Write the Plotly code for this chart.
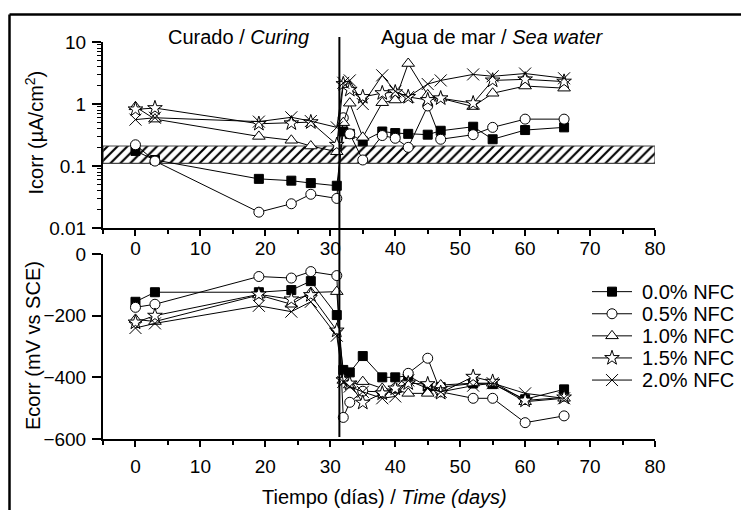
import plotly.graph_objects as go

# ---------------- data ----------------
days = [0, 3, 19, 24, 27, 31, 32, 33, 35, 38, 40, 42, 45, 47, 52, 55, 60, 66]
series_names = ["0.0% NFC", "0.5% NFC", "1.0% NFC", "1.5% NFC", "2.0% NFC"]

icorr_00 = [0.175, 0.125, 0.062, 0.058, 0.053, 0.048, 0.36, 0.33, 0.25, 0.36, 0.34, 0.33, 0.32, 0.37, 0.43, 0.27, 0.38, 0.42]
icorr_05 = [0.22, 0.12, 0.018, 0.0246, 0.035, 0.030, 0.6, 0.33, 0.125, 0.31, 0.28, 0.20, 0.93, 0.27, 0.32, 0.42, 0.57, 0.57]
icorr_10 = [0.9, 0.57, 0.30, 0.26, 0.21, 0.17, 0.5, 1.03, 0.29, 1.05, 1.16, 4.5, 1.4, 1.24, 0.91, 1.49, 1.95, 1.8]
icorr_15 = [0.82, 0.86, 0.48, 0.49, 0.51, 0.22, 2.1, 1.7, 1.3, 1.5, 1.55, 1.3, 1.16, 1.24, 1.03, 2.4, 2.5, 2.3]
icorr_20 = [0.56, 0.6, 0.52, 0.61, 0.53, 0.42, 2.2, 2.4, 1.0, 2.9, 1.6, 1.3, 2.1, 2.4, 3.0, 2.8, 3.1, 2.6]

ecorr_00 = [-155, -124, -124, -117, -88, -198, -376, -384, -331, -400, -400, -395, -430, -432, -420, -422, -471, -439]
ecorr_05 = [-173, -163, -73, -78, -57, -70, -530, -481, -445, -447, -436, -387, -338, -447, -468, -468, -547, -525]
ecorr_10 = [-212, -219, -133, -163, -125, -122, -410, -425, -414, -436, -440, -452, -452, -425, -419, -419, -479, -468]
ecorr_15 = [-222, -200, -131, -147, -133, -248, -409, -420, -482, -452, -436, -419, -422, -450, -398, -414, -475, -465]
ecorr_20 = [-240, -225, -168, -187, -155, -265, -415, -430, -447, -468, -462, -410, -436, -447, -427, -419, -452, -468]

# passivity band (µA/cm²) and phase change day
band_low, band_high = 0.11, 0.21
phase_change_day = 31.4
x_range = [-5, 80]

icorr = [icorr_00, icorr_05, icorr_10, icorr_15, icorr_20]
ecorr = [ecorr_00, ecorr_05, ecorr_10, ecorr_15, ecorr_20]

# ---------------- styles ----------------
FONT = "Arial, 'Liberation Sans', sans-serif"
styles = [
    dict(symbol="square", size=9, color="black", line=dict(color="black", width=1)),
    dict(symbol="circle", size=10, color="white", line=dict(color="black", width=1)),
    dict(symbol="triangle-up", size=11, color="white", line=dict(color="black", width=1)),
    dict(symbol="star", size=11, color="white", line=dict(color="black", width=1)),
    dict(symbol="x-thin", size=12, color="black", line=dict(color="black", width=1)),
]

W, H = 741, 510
L, R, T, B = 103, 86, 42, 71
pw, ph = W - L - R, H - T - B


def px2x(px):
    return (px - L) / pw


def py2y(py):
    return (H - B - py) / ph


fig = go.Figure()

# hatched band (drawn first, behind data)
fig.add_trace(go.Scatter(
    x=[x_range[0], x_range[1], x_range[1], x_range[0], x_range[0]],
    y=[band_low, band_low, band_high, band_high, band_low],
    mode="lines", fill="toself", fillcolor="white",
    fillpattern=dict(shape="/", size=7, solidity=0.3, fgcolor="black", bgcolor="white", fillmode="replace"),
    line=dict(color="#444", width=1.2), hoverinfo="skip", showlegend=False,
    xaxis="x", yaxis="y",
))

for i in range(5):
    fig.add_trace(go.Scatter(x=days, y=icorr[i], mode="lines+markers", name=series_names[i],
                             line=dict(color="black", width=1), marker=styles[i],
                             showlegend=False, xaxis="x", yaxis="y", cliponaxis=False))
    fig.add_trace(go.Scatter(x=days, y=ecorr[i], mode="lines+markers", name=series_names[i],
                             line=dict(color="black", width=1), marker=styles[i],
                             showlegend=False, xaxis="x2", yaxis="y2", cliponaxis=False))

# manual legend on a hidden axis pair
for i in range(5):
    fig.add_trace(go.Scatter(x=[0, 1], y=[i, i], mode="lines", line=dict(color="black", width=1),
                             showlegend=False, hoverinfo="skip", xaxis="x3", yaxis="y3"))
    fig.add_trace(go.Scatter(x=[0.5], y=[i], mode="markers", marker=styles[i],
                             showlegend=False, hoverinfo="skip", xaxis="x3", yaxis="y3", cliponaxis=False))

axis_common = dict(showgrid=False, zeroline=False, showline=True, linecolor="black", linewidth=2,
                   ticks="outside", tickcolor="black", tickwidth=1.5,
                   tickfont=dict(family=FONT, size=19, color="black"), mirror=False)

top_dom = [py2y(228), 1.0]
bot_dom = [0.0, py2y(254)]

fig.update_layout(
    width=W, height=H, margin=dict(l=L, r=R, t=T, b=B),
    paper_bgcolor="white", plot_bgcolor="rgba(0,0,0,0)",
    showlegend=False,
    xaxis=dict(**axis_common, domain=[0, 1], range=x_range, tickvals=[0, 10, 20, 30, 40, 50, 60, 70, 80],
               ticklen=6, ticklabelstandoff=-4, anchor="y",
               minor=dict(ticks="outside", tickvals=[-5, 5, 15, 25, 35, 45, 55, 65, 75], ticklen=4, tickcolor="black", tickwidth=1.5)),
    yaxis=dict(**axis_common, domain=top_dom, type="log", range=[-2, 1],
               tickvals=[0.01, 0.1, 1, 10], ticktext=["0.01", "0.1", "1", "10"],
               ticklen=9, ticklabelstandoff=2, anchor="x",
               minor=dict(ticks="outside", ticklen=4, dtick="D1", tickcolor="black", tickwidth=1)),
    xaxis2=dict(**axis_common, domain=[0, 1], range=x_range, tickvals=[0, 10, 20, 30, 40, 50, 60, 70, 80],
                ticklen=6, ticklabelstandoff=3, anchor="y2",
                minor=dict(ticks="outside", tickvals=[-5, 5, 15, 25, 35, 45, 55, 65, 75], ticklen=4, tickcolor="black", tickwidth=1.5)),
    yaxis2=dict(**axis_common, domain=bot_dom, range=[-600, 0], tickvals=[-600, -400, -200, 0],
                ticklen=9, ticklabelstandoff=2, anchor="x2"),
    xaxis3=dict(domain=[px2x(592), px2x(632)], range=[0, 1], visible=False, anchor="y3", fixedrange=True),
    yaxis3=dict(domain=[py2y(391.1), py2y(280.6)], range=[4.5, -0.5], visible=False, anchor="x3", fixedrange=True),
)

annotations = []
for i in range(5):
    annotations.append(dict(text=series_names[i], x=px2x(640), y=i, xref="paper", yref="y3",
                            xanchor="left", yanchor="middle", showarrow=False,
                            font=dict(family=FONT, size=20, color="black")))
annotations += [
    dict(text="Curado / <i>Curing</i>", x=px2x(238), y=py2y(37.5), xref="paper", yref="paper",
         xanchor="center", yanchor="middle", showarrow=False, font=dict(family=FONT, size=20, color="black")),
    dict(text="Agua de mar / <i>Sea water</i>", x=px2x(492.5), y=py2y(37.5), xref="paper", yref="paper",
         xanchor="center", yanchor="middle", showarrow=False, font=dict(family=FONT, size=20, color="black")),
    dict(text="Tiempo (días) / <i>Time (days)</i>", x=px2x(384), y=py2y(497), xref="paper", yref="paper",
         xanchor="center", yanchor="middle", showarrow=False, font=dict(family=FONT, size=20, color="black")),
    dict(text="Icorr (µA/cm<sup>2</sup>)", x=px2x(34), y=py2y(132.5), xref="paper", yref="paper", textangle=-90,
         xanchor="center", yanchor="middle", showarrow=False, font=dict(family=FONT, size=20, color="black")),
    dict(text="Ecorr (mV vs SCE)", x=px2x(33), y=py2y(346), xref="paper", yref="paper", textangle=-90,
         xanchor="center", yanchor="middle", showarrow=False, font=dict(family=FONT, size=20, color="black")),
]
fig.update_layout(annotations=annotations)

# phase-change vertical line and outer frame
xp = (phase_change_day - x_range[0]) / (x_range[1] - x_range[0])
fig.add_shape(type="line", xref="paper", yref="paper", x0=xp, x1=xp, y0=py2y(437), y1=py2y(37),
              line=dict(color="black", width=2), layer="above")
fig.add_shape(type="line", xref="paper", yref="paper", x0=px2x(9.5), x1=px2x(760), y0=py2y(14.5), y1=py2y(14.5),
              line=dict(color="black", width=2.5), layer="above")
fig.add_shape(type="line", xref="paper", yref="paper", x0=px2x(9.5), x1=px2x(9.5), y0=py2y(14.5), y1=py2y(530),
              line=dict(color="black", width=2.5), layer="above")

fig.write_html("out.html")
